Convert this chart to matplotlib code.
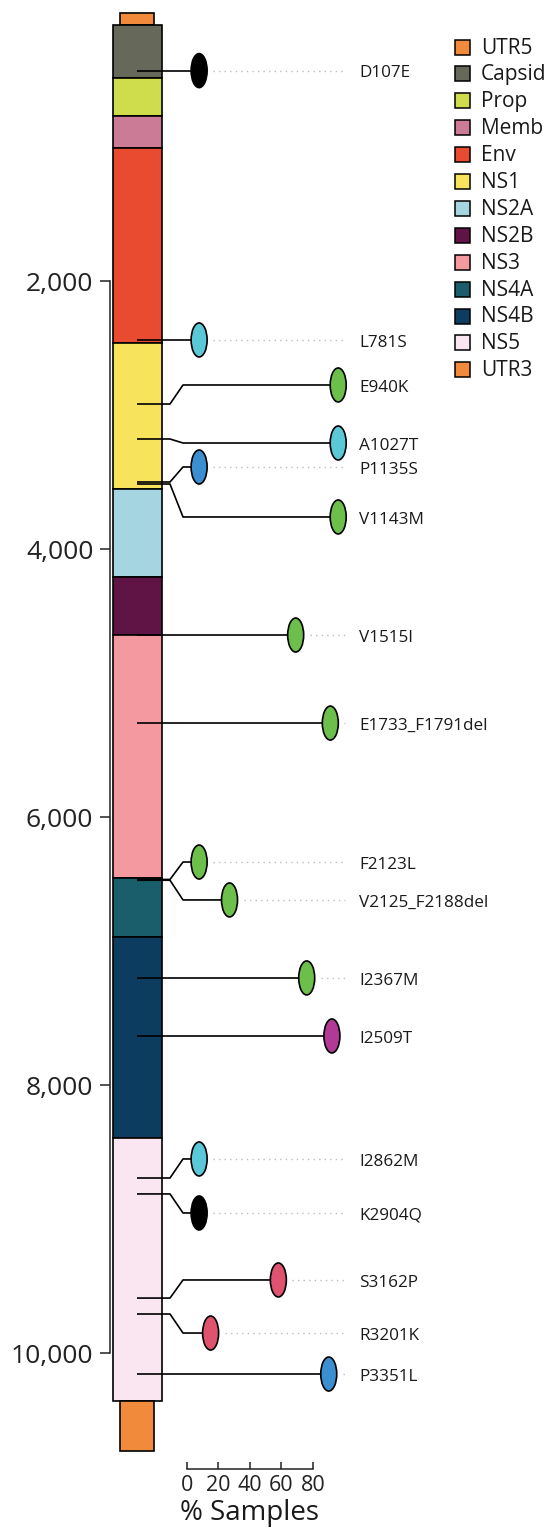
import matplotlib.pyplot as plt
from matplotlib.patches import Rectangle, Ellipse
from matplotlib.ticker import StrMethodFormatter

plt.rcParams['font.family'] = ['Open Sans', 'DejaVu Sans']

# genome segments (nucleotide positions)
seg_names = ['UTR5', 'Capsid', 'Prop', 'Memb', 'Env', 'NS1', 'NS2A', 'NS2B',
             'NS3', 'NS4A', 'NS4B', 'NS5', 'UTR3']
seg_start = [0, 92, 484, 767, 1007, 2463, 3552, 4209, 4642, 6455, 6896, 8396, 10358]
seg_end = [92, 484, 767, 1007, 2463, 3552, 4209, 4642, 6455, 6896, 8396, 10358, 10731]
seg_colors = ['#f28a3c', '#66685a', '#cfdd4c', '#cc7b96', '#e84b30', '#f8e45c',
              '#a6d5e2', '#601445', '#f4999f', '#1b5e6b', '#0d3c61', '#fae6f0', '#f28a3c']

# mutations
mut_labels = ['D107E', 'L781S', 'E940K', 'A1027T', 'P1135S', 'V1143M', 'V1515I',
              'E1733_F1791del', 'F2123L', 'V2125_F2188del', 'I2367M', 'I2509T',
              'I2862M', 'K2904Q', 'S3162P', 'R3201K', 'P3351L']
mut_nt = [430, 2440, 2918, 3179, 3500, 3515, 4642, 5299, 6466, 6472, 7201, 7634,
          8694, 8813, 9590, 9709, 10157]
mut_pct = [7.7, 7.7, 96, 96, 7.7, 96, 69, 91, 7.7, 27, 76, 92, 7.7, 7.7, 58, 15, 90]
mut_colors = ['#000000', '#5bc8d8', '#6cbf4b', '#5bc8d8', '#3b8fd0', '#6cbf4b',
              '#6cbf4b', '#6cbf4b', '#6cbf4b', '#6cbf4b', '#6cbf4b', '#b03a96',
              '#5bc8d8', '#000000', '#e0536e', '#e0536e', '#3b8fd0']
# where each lollipop head sits after de-crowding
label_nt = [430, 2440, 2776, 3209, 3388, 3761, 4642, 5299, 6336, 6619, 7201, 7634,
            8552, 8955, 9455, 9851, 10157]

pct_ticks = [0, 20, 40, 60, 80]
nt_ticks = [2000, 4000, 6000, 8000, 10000]


# pixel -> data helpers for layout only
def px_x(px):
    return (px - 187) / 1.575


def px_y(py):
    return (py - 13) / 0.134


fig = plt.figure(figsize=(5.5, 15.28), dpi=100)
ax = fig.add_axes([0, 0, 1, 1])
ax.set_xlim(px_x(0), px_x(550))
ax.set_ylim(px_y(1528), px_y(0))

# genome bar
for name, s, e, c in zip(seg_names, seg_start, seg_end, seg_colors):
    if name.startswith('UTR'):
        x0, x1 = px_x(120), px_x(154)
    else:
        x0, x1 = px_x(113), px_x(162)
    ax.add_patch(Rectangle((x0, s), x1 - x0, e - s, facecolor=c,
                           edgecolor='black', linewidth=1.2, zorder=2))

# lollipops
ell_w = 16 / 1.575
ell_h = 34 / 0.134
for lab, nt, pct, col, lnt in zip(mut_labels, mut_nt, mut_pct, mut_colors, label_nt):
    left = pct - ell_w / 2
    if abs(lnt - nt) < 1:
        xs = [px_x(137), left]
        ys = [nt, nt]
    else:
        xs = [px_x(137), px_x(170), px_x(183), left]
        ys = [nt, nt, lnt, lnt]
    ax.plot(xs, ys, color='black', lw=1.2, zorder=3, solid_capstyle='butt')
    ax.add_patch(Ellipse((pct, lnt), ell_w, ell_h, facecolor=col,
                         edgecolor='black', linewidth=1.2, zorder=4))
    dot_start = pct + ell_w / 2 + 6 / 1.575
    if dot_start < px_x(345):
        ax.plot([dot_start, px_x(345)], [lnt, lnt], color='#bdbdbd', lw=1.0,
                linestyle=(0, (1, 3)), zorder=1)
    ax.text(px_x(359), lnt + 20, lab, fontsize=12.3, ha='left',
            va='center', color='#1a1a1a')

# legend
for i, (name, c) in enumerate(zip(seg_names, seg_colors)):
    yc = 47 + 26.9 * i
    ax.add_patch(Rectangle((px_x(455), px_y(yc + 7.5)), 15 / 1.575, -15 / 0.134,
                           facecolor=c, edgecolor='black', linewidth=1.1,
                           clip_on=False))
    ax.text(px_x(481), px_y(yc + 1), name, fontsize=15, ha='left', va='center',
            color='#1a1a1a')

# axes
for side in ['top', 'right']:
    ax.spines[side].set_visible(False)
ax.spines['left'].set_position(('data', px_x(110)))
ax.spines['left'].set_bounds(nt_ticks[0], nt_ticks[-1])
ax.spines['bottom'].set_position(('data', px_y(1469)))
ax.spines['bottom'].set_bounds(pct_ticks[0], pct_ticks[-1])
for side in ['left', 'bottom']:
    ax.spines[side].set_linewidth(1.1)
    ax.spines[side].set_color('#222222')

ax.set_yticks(nt_ticks)
ax.yaxis.set_major_formatter(StrMethodFormatter('{x:,.0f}'))
ax.tick_params(axis='y', direction='out', length=7, width=1.1, pad=5,
               labelsize=19, colors='#222222')
ax.set_xticks(pct_ticks)
ax.tick_params(axis='x', direction='in', length=5, width=1.1, pad=4,
               labelsize=15.5, colors='#222222')

ax.text(40, px_y(1513), '% Samples', fontsize=20, ha='center', va='center',
        color='#1a1a1a')

fig.savefig('out.png', dpi=100)
